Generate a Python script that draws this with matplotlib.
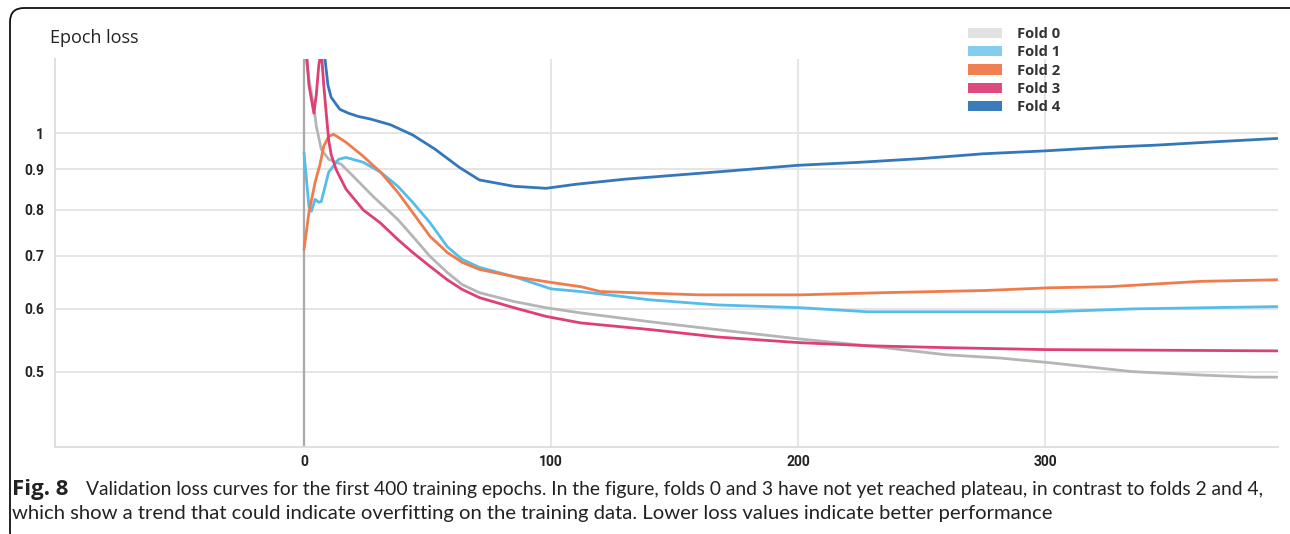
import matplotlib
matplotlib.use("Agg")
import matplotlib.pyplot as plt
from matplotlib.patches import Patch, FancyBboxPatch
from matplotlib.transforms import IdentityTransform

# ---------------- data ----------------
fold_names = ["Fold 0", "Fold 1", "Fold 2", "Fold 3", "Fold 4"]

fold0_epochs = [0, 2, 4, 5, 7, 10, 15, 20, 28, 38, 44, 51, 58, 64, 71, 85, 98, 112,
                140, 167, 200, 228, 260, 282, 302, 335, 363, 384, 394]
fold0_loss = [1.30, 1.17, 1.08, 1.02, 0.954, 0.927, 0.914, 0.882, 0.832, 0.778, 0.741,
              0.699, 0.667, 0.644, 0.629, 0.613, 0.602, 0.593, 0.578, 0.565, 0.550,
              0.539, 0.525, 0.520, 0.513, 0.500, 0.495, 0.492, 0.492]

fold1_epochs = [0, 2, 3, 4.5, 6, 7, 10, 14, 17, 24, 31, 38, 44, 51, 58, 64, 71, 85,
                100, 112, 140, 167, 201, 228, 262, 302, 336, 394]
fold1_loss = [0.946, 0.808, 0.797, 0.825, 0.818, 0.820, 0.893, 0.927, 0.932, 0.919,
              0.893, 0.857, 0.818, 0.771, 0.719, 0.693, 0.677, 0.659, 0.636, 0.631,
              0.616, 0.607, 0.602, 0.595, 0.595, 0.595, 0.600, 0.604]

fold2_epochs = [0, 2, 4.5, 6.5, 8, 10, 12, 17, 24, 31, 38, 44, 51, 58, 64, 71, 85,
                100, 112, 120, 160, 201, 235, 276, 302, 326, 363, 394]
fold2_loss = [0.713, 0.794, 0.867, 0.914, 0.963, 0.991, 0.997, 0.974, 0.935, 0.893,
              0.842, 0.794, 0.741, 0.707, 0.687, 0.673, 0.659, 0.648, 0.640, 0.631,
              0.625, 0.625, 0.629, 0.633, 0.638, 0.640, 0.650, 0.653]

fold3_epochs = [0, 2, 4, 5, 6, 7, 8, 9, 10, 11, 13, 17, 24, 31, 38, 44, 51, 58, 64,
                71, 85, 98, 112, 140, 167, 200, 228, 260, 300, 394]
fold3_loss = [1.40, 1.15, 1.06, 1.12, 1.22, 1.27, 1.15, 1.06, 0.98, 0.94, 0.90, 0.85,
              0.80, 0.77, 0.734, 0.707, 0.679, 0.653, 0.635, 0.620, 0.602, 0.587,
              0.576, 0.565, 0.553, 0.544, 0.539, 0.536, 0.533, 0.531]

fold4_epochs = [0, 8, 8.5, 9.7, 11, 14.5, 18, 22, 27, 35, 44, 53, 63, 71, 85, 98, 110,
                130, 150, 170, 200, 225, 250, 275, 300, 325, 345, 365, 394]
fold4_loss = [2.0, 1.35, 1.24, 1.15, 1.11, 1.072, 1.06, 1.05, 1.042, 1.025, 0.995,
              0.955, 0.905, 0.873, 0.857, 0.852, 0.862, 0.875, 0.885, 0.895, 0.911,
              0.919, 0.929, 0.942, 0.950, 0.960, 0.966, 0.974, 0.985]

y_ticks = [0.5, 0.6, 0.7, 0.8, 0.9, 1.0]
y_tick_labels = ["0.5", "0.6", "0.7", "0.8", "0.9", "1"]
x_ticks = [0, 100, 200, 300]
x_tick_labels = ["0", "100", "200", "300"]

title_text = "Epoch loss"
caption_bold = "Fig. 8"
caption_line1 = ("Validation loss curves for the first 400 training epochs. In the figure, "
                 "folds 0 and 3 have not yet reached plateau, in contrast to folds 2 and 4,")
caption_line2 = ("which show a trend that could indicate overfitting on the training data. "
                 "Lower loss values indicate better performance")

line_colors = ["#b5b5b5", "#55bdea", "#f07b4c", "#df3f77", "#3478bb"]
legend_colors = ["#e2e2e2", "#85cdee", "#f07f52", "#df4a7e", "#3a7bbd"]

# ---------------- figure ----------------
W, H = 1290, 534
fig = plt.figure(figsize=(W / 100, H / 100), dpi=100)
fig.patch.set_facecolor("white")

ax_l, ax_r, ax_t, ax_b = 55, 1278, 59, 447
ax = fig.add_axes([ax_l / W, 1 - ax_b / H, (ax_r - ax_l) / W, (ax_b - ax_t) / H])

series = [(fold0_epochs, fold0_loss), (fold1_epochs, fold1_loss),
          (fold2_epochs, fold2_loss), (fold3_epochs, fold3_loss),
          (fold4_epochs, fold4_loss)]

ax.set_yscale("log")
ax.set_xlim(-100.8, 394.3)
ax.set_ylim(0.4015, 1.241)

# grid
for yv in y_ticks:
    ax.axhline(yv, color="#e3e3e3", lw=1.3, zorder=0)
for xv in x_ticks[1:]:
    ax.axvline(xv, color="#e3e3e3", lw=1.3, zorder=0)
ax.axvline(0, color="#a9a9a9", lw=1.6, zorder=1)

for i in range(len(series)):
    ep, lo = series[i]
    ax.plot(ep, lo, color=line_colors[i], lw=2.0, solid_joinstyle="round",
            solid_capstyle="round", zorder=2 + i)

ax.set_yticks(y_ticks)
ax.set_yticklabels(y_tick_labels)
ax.yaxis.set_minor_locator(matplotlib.ticker.NullLocator())
ax.set_xticks(x_ticks)
ax.set_xticklabels(x_tick_labels)
ax.tick_params(axis="both", length=0, labelsize=10, colors="#222222")
for lab in ax.get_xticklabels() + ax.get_yticklabels():
    lab.set_fontweight("bold")
    lab.set_fontfamily("Roboto")
ax.tick_params(axis="y", pad=8)
ax.tick_params(axis="x", pad=6)

for s in ["top", "right"]:
    ax.spines[s].set_visible(False)
for s in ["left", "bottom"]:
    ax.spines[s].set_color("#dddddd")
    ax.spines[s].set_linewidth(1.3)

# title
fig.text(50 / W, 1 - 38 / H, title_text, fontsize=13, family="Open Sans",
         color="#222222", va="center", ha="left")

# legend
handles = [Patch(facecolor=c, edgecolor="none") for c in legend_colors]
leg = fig.legend(handles, fold_names, loc="upper left",
                 bbox_to_anchor=(968 / W, 1 - 27 / H), frameon=False,
                 prop={"family": "Open Sans", "weight": "bold", "size": 10.6},
                 handlelength=2.3, handleheight=0.7, handletextpad=1.05,
                 labelspacing=0.29, borderaxespad=0, borderpad=0)
for t in leg.get_texts():
    t.set_color("#333333")

# caption
cap_kw = dict(color="#222222", va="center", ha="left")
fig.text(12 / W, 1 - 490 / H, caption_bold, fontweight="bold", fontsize=16,
         family="Open Sans", **cap_kw)
fig.text(86 / W, 1 - 490 / H, caption_line1, fontsize=13.9, family="Lato", **cap_kw)
fig.text(12 / W, 1 - 514 / H, caption_line2, fontsize=14.6, family="Lato", **cap_kw)

# rounded frame (top and left visible)
frame = FancyBboxPatch((10, -12), 1300, 534 - 8 + 12, boxstyle="round,pad=0,rounding_size=14",
                       transform=IdentityTransform(), facecolor="none",
                       edgecolor="#111111", lw=1.3, clip_on=False)
fig.add_artist(frame)

fig.savefig("out.png", dpi=100)
